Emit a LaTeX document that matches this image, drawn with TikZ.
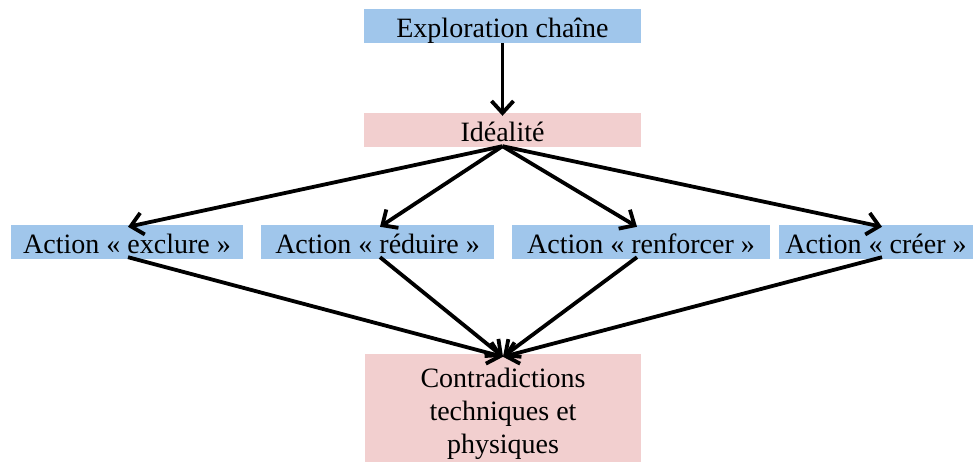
\documentclass[tikz,border=0pt]{standalone}
\usepackage{fontspec}
\setmainfont{Liberation Serif}
\usetikzlibrary{arrows.meta}
\definecolor{boxblue}{RGB}{160,198,235}
\definecolor{boxpink}{RGB}{242,207,207}
\begin{document}
\begin{tikzpicture}[x=1pt,y=-1pt,
  bluebox/.style={fill=boxblue,inner sep=0pt,minimum height=34pt,text height=24pt,text depth=0pt,font=\fontsize{28}{33}\selectfont},
  pinkbox/.style={fill=boxpink,inner sep=0pt,font=\fontsize{28}{33}\selectfont},
  arr/.style={line width=3.8pt,-{Straight Barb[length=12pt,width=22pt]}}]
\useasboundingbox (0,0) rectangle (974,462);
\node[bluebox,minimum width=277pt] (top) at (502.5,26) {Exploration chaîne};
\node[pinkbox,minimum width=277pt,minimum height=34pt,text height=24pt,text depth=0pt] (ideal) at (502.5,130) {Idéalité};
\node[bluebox,minimum width=232pt] (a1) at (127,242) {Action « exclure »};
\node[bluebox,minimum width=233pt] (a2) at (377.5,242) {Action « réduire »};
\node[bluebox,minimum width=258pt] (a3) at (641,242) {Action « renforcer »};
\node[bluebox,minimum width=194pt] (a4) at (876,242) {Action « créer »};
\node[pinkbox,minimum width=276pt,minimum height=120pt,align=center] (contr) at (503,414)
  {Contradictions\\techniques et\\physiques};
\coordinate (hub) at ([yshift=1pt]ideal.south);
\coordinate (sink) at ([yshift=-3pt]contr.north);
\draw[arr] (top.south) -- ([yshift=-3pt]ideal.north);
\draw[arr] (hub) -- ([xshift=1pt,yshift=-2pt]a1.north);
\draw[arr] (hub) -- ([xshift=2.5pt,yshift=-2pt]a2.north);
\draw[arr] (hub) -- ([xshift=-4pt,yshift=-2pt]a3.north);
\draw[arr] (hub) -- ([xshift=6pt,yshift=-2pt]a4.north);
\draw[arr] ([xshift=1pt,yshift=2pt]a1.south) -- (sink);
\draw[arr] ([xshift=2.5pt,yshift=2pt]a2.south) -- (sink);
\draw[arr] ([xshift=-4pt,yshift=2pt]a3.south) -- (sink);
\draw[arr] ([xshift=6pt,yshift=2pt]a4.south) -- (sink);
\end{tikzpicture}
\end{document}
